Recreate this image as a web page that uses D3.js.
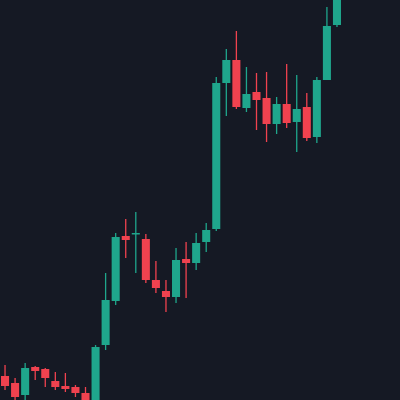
<!DOCTYPE html>
<html><head><meta charset="utf-8">
<script src="https://cdn.jsdelivr.net/npm/d3@7/dist/d3.min.js"></script>
<style>html,body{margin:0;padding:0;background:#151924;overflow:hidden}</style>
</head><body><div id="chart"></div>
<script>
const opens  = [24,17,5,33,31,19,14,13,7,-5,55,99,164,166,161,120,109,103,141,137,158,171,317,340,292,308,302,276,296,278,293,263,320,375];
const closes = [14,3,32,29,22,13,11,7,-1,53,100,163,160,167,120,112,103,140,137,157,170,317,340,293,306,300,276,296,277,291,262,320,374,405];
const highs  = [35,22,37,34,32,28,27,15,13,55,127,167,181,188,166,139,120,152,158,167,177,323,351,369,333,327,328,303,336,325,307,323,393,410];
const lows   = [10,-3,-2,20,13,10,8,3,-5,-10,50,95,142,127,117,107,88,97,102,130,148,169,284,291,288,270,258,266,272,248,259,257,320,373];
const idx = d3.range(opens.length);
const W = 400, H = 400;
const svg = d3.select("#chart").append("svg").attr("width", W).attr("height", H);
svg.append("rect").attr("width", W).attr("height", H).attr("fill", "#151924");
const x = d3.scaleBand().domain(idx).range([0, 342]).paddingInner(0.2).paddingOuter(0.1);
const y = d3.scaleLinear().domain([0, 400]).range([400, 0]);
const up = "#1fa68c", down = "#f0424f";
const g = svg.selectAll("g.c").data(idx).enter().append("g");
g.append("line")
  .attr("x1", i => x(i) + x.bandwidth()/2)
  .attr("x2", i => x(i) + x.bandwidth()/2)
  .attr("y1", i => y(highs[i])).attr("y2", i => y(lows[i]))
  .attr("stroke", i => closes[i] >= opens[i] ? up : down).attr("stroke-width", 1.3);
g.append("rect")
  .attr("x", i => x(i)).attr("width", x.bandwidth())
  .attr("y", i => y(Math.max(opens[i], closes[i])))
  .attr("height", i => Math.max(1.5, Math.abs(y(opens[i]) - y(closes[i]))))
  .attr("fill", i => closes[i] >= opens[i] ? up : down);
</script></body></html>
